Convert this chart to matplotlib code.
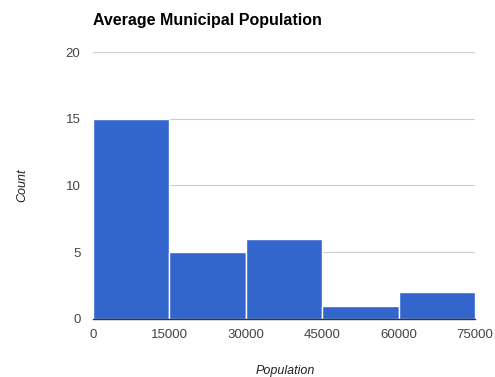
import matplotlib
matplotlib.use("Agg")
import matplotlib.pyplot as plt

plt.rcParams['font.family'] = ['Liberation Sans', 'DejaVu Sans']

bin_edges = [0, 15000, 30000, 45000, 60000, 75000]
counts = [15, 5, 6, 1, 2]
x_ticks = [0, 15000, 30000, 45000, 60000, 75000]
y_ticks = [0, 5, 10, 15, 20]

fig = plt.figure(figsize=(4.95, 3.77), dpi=100)
ax = fig.add_axes([0.188, 0.154, 0.772, 0.708])

lefts = bin_edges[:-1]
widths = [b - a for a, b in zip(bin_edges[:-1], bin_edges[1:])]
ax.bar(lefts, counts, width=widths, align='edge', color='#3366CC',
       edgecolor='white', linewidth=1.0, zorder=2)

ax.set_xlim(0, 75000)
ax.set_ylim(0, 20)
ax.set_xticks(x_ticks)
ax.set_xticklabels([str(t) for t in x_ticks])
ax.set_yticks(y_ticks)
ax.yaxis.grid(True, color='#CCCCCC', linewidth=0.8, zorder=0)
ax.set_axisbelow(True)
for s in ['top', 'right', 'left']:
    ax.spines[s].set_visible(False)
ax.spines['bottom'].set_color('#333333')
ax.spines['bottom'].set_linewidth(1.0)
ax.spines['bottom'].set_zorder(3)
ax.tick_params(axis='both', length=0, labelsize=9.5, colors='#444444')
ax.tick_params(axis='x', pad=7)
ax.tick_params(axis='y', pad=9)

# axis titles placed in figure coordinates
fig.text(285 / 495, 1 - 371 / 377, 'Population', fontsize=9, style='italic',
         color='#222222', ha='center', va='center')
fig.text(22 / 495, 1 - 185 / 377, 'Count', fontsize=9, style='italic',
         color='#222222', ha='center', va='center', rotation=90)
fig.text(0.188, 0.935, 'Average Municipal Population', fontsize=11.5,
         fontweight='bold', color='#000000', ha='left', va='baseline')

fig.savefig('out.png', dpi=100, facecolor='white')
